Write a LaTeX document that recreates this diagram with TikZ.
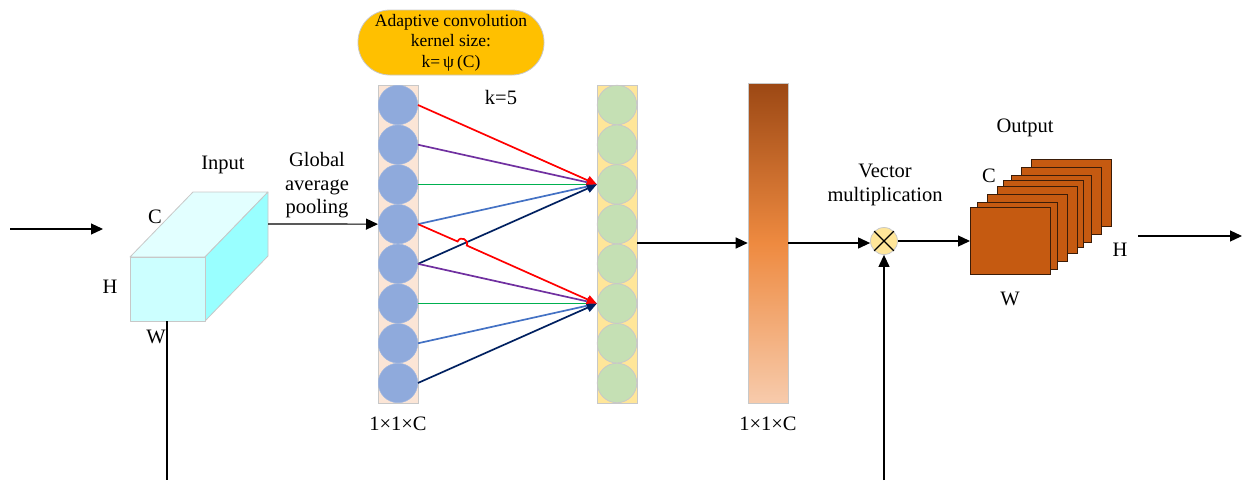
\documentclass[tikz,border=0pt]{standalone}
\usepackage{fontspec}
\setmainfont{Liberation Serif}
\usetikzlibrary{arrows.meta,calc}
\definecolor{cubeFront}{HTML}{CCFFFF}
\definecolor{cubeTop}{HTML}{E2FFFF}
\definecolor{cubeSide}{HTML}{99FFFF}
\definecolor{edgeGray}{HTML}{C8C8C8}
\definecolor{colLfill}{HTML}{FBE5D6}
\definecolor{colRfill}{HTML}{FFE699}
\definecolor{bblue}{HTML}{8FAADC}
\definecolor{ggreen}{HTML}{C5E0B4}
\definecolor{pillFill}{HTML}{FFC000}
\definecolor{lred}{HTML}{FF0000}
\definecolor{lpurple}{HTML}{7030A0}
\definecolor{lgreen}{HTML}{00B050}
\definecolor{lblue}{HTML}{4472C4}
\definecolor{lnavy}{HTML}{002060}
\definecolor{barTop}{HTML}{9C4814}
\definecolor{barMid}{HTML}{EE8A40}
\definecolor{barBot}{HTML}{F7CBAC}
\definecolor{outFill}{HTML}{C55A11}
\definecolor{outEdge}{HTML}{3A1C08}
\newcommand\lblfont{\fontsize{20.5}{23.5}\selectfont}
\newcommand\pillfont{\fontsize{17.5}{20.5}\selectfont}
\begin{document}
\begin{tikzpicture}[x=1pt,y=-1pt,
  lbl/.style={font=\lblfont, inner sep=0pt, anchor=base},
  arr/.style={line width=1.2pt, -{Triangle[length=12pt,width=11pt]}},
  carr/.style={line width=1.7pt, -{Triangle[length=10pt,width=9pt]}},
  colbox/.style={draw=edgeGray, line width=0.8pt, minimum width=40pt, minimum height=318pt, inner sep=0pt},
  bcirc/.style={circle, fill=bblue, draw=bblue!85!white, line width=0.5pt, minimum size=39.5pt, inner sep=0pt},
  gcirc/.style={circle, fill=ggreen, draw=edgeGray, line width=0.8pt, minimum size=39.5pt, inner sep=0pt},
  outrect/.style={draw=outEdge, fill=outFill, line width=1pt, minimum width=80pt, minimum height=67pt, inner sep=0pt},
  face/.style={draw=edgeGray, line width=0.8pt, line join=round}
]
\useasboundingbox (0,0) rectangle (1242,480);

% input arrow
\coordinate (inS) at (10,229);
\coordinate (inE) at (103,229);
\draw[arr] (inS) -- (inE);

% cube
\filldraw[face, fill=cubeTop] (130,257) -- (193,192) -- (268,192) -- (205,257) -- cycle;
\filldraw[face, fill=cubeSide] (205,257) -- (268,192) -- (268,256) -- (205,321) -- cycle;
\filldraw[face, fill=cubeFront] (130,257) rectangle (205,321);
\coordinate (cubeBot) at (167,321);
\coordinate (wBot) at (167,480);
\draw[line width=1.2pt] (cubeBot) -- (wBot);
\coordinate (cubeR) at (268,224);

\node[lbl] (tInput) at (223,169) {Input};
\node[lbl] (tC1) at (155,223) {C};
\node[lbl] (tH1) at (110,293) {H};
\node[lbl] (tW1) at (156,343) {W};
\node[lbl] (tG1) at (317,166) {Global};
\node[lbl] (tG2) at (317,190) {average};
\node[lbl] (tG3) at (317,213) {pooling};

% columns
\node[colbox, fill=colLfill] (colL) at (398,244) {};
\node[colbox, fill=colRfill] (colR) at (617,244) {};
\foreach \i in {1,...,8}{
  \node[bcirc] (b\i) at (398,{105+39.71*(\i-1)}) {};
  \node[gcirc] (g\i) at (617,{105+39.71*(\i-1)}) {};
}

\draw[arr] (cubeR) -- (b4.west);

% pill
\node[draw=edgeGray, line width=0.8pt, fill=pillFill, rounded corners=32pt,
      minimum width=186pt, minimum height=65pt, inner sep=0pt,
      align=center, font=\pillfont] (pill) at (451,42.5)
      {Adaptive convolution\\kernel size:\\k=\,ψ\,(C)};
\node[lbl] (tk) at (501,104) {k=5};

% connections, top group
\draw[carr, lpurple] (b2.east) -- (g3.west);
\draw[carr, lgreen] (b3.east) -- (g3.west);
\draw[carr, lblue] (b4.east) -- (g3.west);
\draw[carr, lnavy] (b5.east) -- (g3.west);
\draw[carr, lred] (b1.east) -- (g3.west);
% bottom group
\draw[carr, lpurple] (b5.east) -- (g6.west);
\draw[carr, lgreen] (b6.east) -- (g6.west);
\draw[carr, lblue] (b7.east) -- (g6.west);
\draw[carr, lnavy] (b8.east) -- (g6.west);
\coordinate (h1) at (457.6,241.5);
\coordinate (h1c) at (460.0,235.5);
\coordinate (h2c) at (469.2,239.5);
\coordinate (h2) at (466.8,245.5);
\draw[carr, lred] (b4.east) -- (h1) .. controls (h1c) and (h2c) .. (h2) -- (g6.west);

\node[lbl] (t111a) at (398,430) {1×1×C};

% bar
\node[draw=edgeGray, line width=0.6pt, minimum width=40pt, minimum height=320pt, inner sep=0pt,
      top color=barTop, bottom color=barBot, middle color=barMid] (bar) at (768,243) {};
\node[lbl] (t111b) at (768,430) {1×1×C};
\draw[arr] (colR.east |- bar.west) -- (bar.west);

% multiplication
\node[circle, fill=colRfill, draw=edgeGray, line width=0.8pt, minimum size=27pt, inner sep=0pt] (mul) at (884,241) {};
\draw[line width=1.2pt] (mul.45) -- (mul.225) (mul.135) -- (mul.315);
\draw[arr] (bar.east) -- (bar.east -| mul.west);
\coordinate (mulBot) at (884,480);
\draw[arr] (mulBot) -- (mul.south);
\node[lbl] (tV1) at (885,177) {Vector};
\node[lbl] (tV2) at (885,201.5) {multiplication};

% output stack
\foreach \dx/\dy [count=\i] in {60.7/-47.7, 50.7/-40, 40.7/-31.7, 33.3/-26.7, 27.3/-21.3, 17.3/-12.7, 7.3/-5, 0/0}
  \node[outrect, anchor=north west] (o\i) at ({970+\dx},{207+\dy}) {};
\draw[arr] (mul.east) -- (mul.east -| o8.west);
\node[lbl] (tOut) at (1025,132) {Output};
\node[lbl] (tC2) at (989,182) {C};
\node[lbl] (tH2) at (1120,256) {H};
\node[lbl] (tW2) at (1010,305) {W};
\coordinate (outS) at (1138,236);
\coordinate (outE) at (1242,236);
\draw[arr] (outS) -- (outE);
\end{tikzpicture}
\end{document}
